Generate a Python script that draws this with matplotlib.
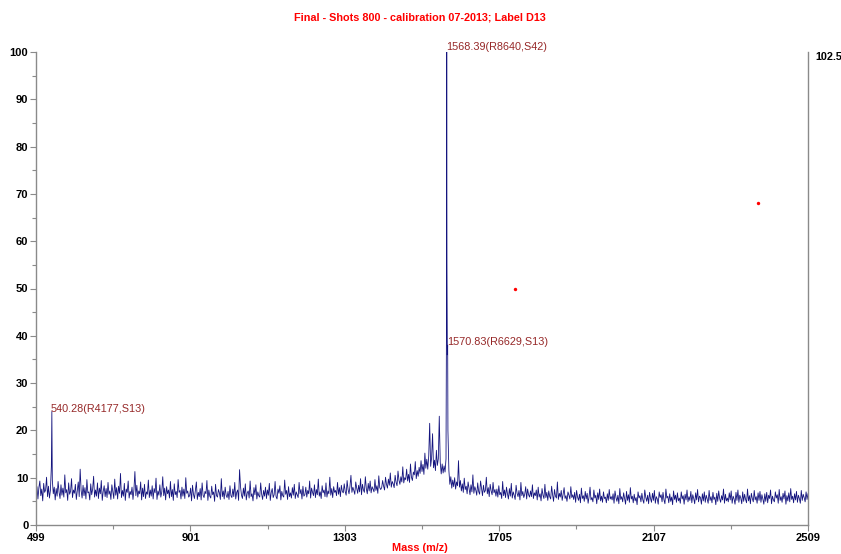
import numpy as np
import matplotlib
matplotlib.use("Agg")
import matplotlib.pyplot as plt
from matplotlib.ticker import MultipleLocator, FixedLocator

# ---------------- data ----------------
title = "Final - Shots 800 - calibration 07-2013; Label D13"
x_label = "Mass (m/z)"
x_ticks = [499, 901, 1303, 1705, 2107, 2509]
y_ticks = [0, 10, 20, 30, 40, 50, 60, 70, 80, 90, 100]
right_label = "102.5"

# spectrum sampled every 2.5 Da from 499 to 2509 (one row = 100 Da)
grid_start, grid_step = 499, 2.5
spec_499 = [6.4, 8.1, 5.5, 7.9, 9.3, 6.2, 7.6, 5.1, 8.8, 6.9, 7.4, 10.1, 6.0, 8.2, 5.7, 7.3, 12.4, 9.5, 6.6, 8.0,
            5.3, 7.7, 6.1, 9.2, 7.0, 5.6, 8.5, 6.3, 7.8, 5.9, 10.6, 6.8, 7.5, 5.2, 8.9, 6.5, 7.1, 9.8, 5.8, 7.4]
spec_599 = [6.7, 8.6, 5.4, 7.2, 9.1, 6.0, 11.8, 7.3, 5.7, 8.4, 6.2, 7.9, 5.5, 9.6, 6.8, 7.0, 5.3, 8.7, 6.4, 7.6,
            10.3, 5.9, 7.4, 6.1, 8.9, 5.6, 7.8, 6.6, 9.4, 5.2, 7.1, 8.3, 6.0, 7.7, 5.8, 9.0, 6.5, 7.2, 5.4, 8.5]
spec_699 = [7.0, 5.6, 9.7, 6.3, 7.9, 5.5, 8.2, 6.7, 10.9, 5.8, 7.3, 6.1, 8.8, 5.2, 7.6, 6.9, 9.3, 5.7, 7.1, 6.4,
            8.0, 5.4, 7.5, 11.3, 6.2, 8.4, 5.9, 7.2, 6.6, 9.1, 5.3, 7.8, 6.0, 8.6, 5.6, 7.0, 6.5, 9.5, 5.8, 7.4]
spec_799 = [6.1, 8.3, 5.5, 7.7, 6.8, 9.9, 5.4, 7.2, 6.3, 8.5, 5.9, 7.0, 10.2, 6.2, 7.8, 5.3, 8.1, 6.6, 7.4, 5.7,
            9.2, 6.0, 7.5, 5.2, 8.7, 6.4, 7.1, 5.8, 9.6, 6.9, 7.3, 5.5, 8.0, 6.1, 7.6, 5.6, 10.0, 6.7, 7.2, 5.9]
spec_899 = [6.2, 7.8, 5.1, 8.4, 6.5, 5.6, 7.3, 9.1, 5.4, 6.9, 6.0, 7.7, 5.3, 8.9, 6.3, 5.8, 7.1, 6.6, 9.4, 5.2,
            7.4, 6.1, 5.7, 8.2, 6.4, 7.0, 5.0, 8.6, 6.2, 5.9, 7.5, 6.8, 5.4, 9.8, 6.0, 7.2, 5.5, 8.0, 6.3, 5.8]
spec_999 = [7.1, 5.4, 8.3, 6.2, 5.8, 7.6, 6.0, 9.0, 5.5, 6.9, 7.4, 5.2, 11.7, 8.1, 6.3, 5.6, 7.8, 6.1, 8.7, 5.3,
            6.8, 7.2, 5.7, 9.3, 6.0, 6.6, 5.1, 7.9, 6.4, 8.5, 5.5, 7.0, 6.2, 5.9, 8.9, 6.5, 5.4, 7.3, 6.1, 8.0]
spec_1099 = [5.6, 7.4, 6.3, 8.8, 5.2, 6.9, 7.7, 5.8, 6.4, 9.2, 6.0, 5.5, 7.6, 6.7, 8.3, 5.3, 7.1, 6.2, 5.9, 9.5,
             6.5, 7.3, 5.4, 8.1, 6.0, 6.8, 5.7, 7.9, 6.3, 8.6, 5.6, 7.0, 6.4, 5.8, 9.0, 6.6, 7.5, 5.5, 8.2, 6.1]
spec_1199 = [6.4, 8.0, 5.9, 7.3, 6.6, 9.3, 5.7, 7.8, 6.9, 6.2, 8.5, 5.8, 7.5, 6.4, 9.7, 6.1, 7.0, 5.6, 8.3, 6.8,
             7.4, 6.0, 8.9, 5.9, 7.2, 6.6, 10.1, 6.3, 7.7, 5.8, 8.1, 6.9, 7.3, 6.2, 9.0, 6.5, 7.9, 6.0, 8.4, 7.1]
spec_1299 = [6.8, 8.7, 7.1, 6.3, 9.4, 7.5, 6.6, 8.2, 10.5, 6.9, 8.0, 7.3, 6.5, 9.1, 7.8, 6.7, 8.4, 7.0, 9.8, 6.4,
             8.6, 7.4, 6.9, 10.2, 7.7, 6.6, 8.8, 7.2, 9.3, 6.8, 8.1, 7.6, 7.0, 9.6, 7.3, 8.3, 6.7, 10.4, 7.9, 7.5]
spec_1399 = [7.9, 9.4, 8.2, 7.4, 10.1, 8.6, 7.8, 9.7, 8.4, 11.0, 8.0, 9.2, 8.7, 7.9, 10.5, 9.0, 8.3, 11.4, 9.5, 8.6,
             10.2, 9.1, 12.3, 8.9, 10.0, 9.6, 11.8, 9.3, 10.7, 9.0, 12.9, 10.1, 9.4, 11.2, 10.6, 13.4, 9.8, 11.5, 10.3, 12.2]
spec_1499 = [10.9, 13.6, 11.3, 12.8, 10.7, 15.2, 12.0, 13.9, 11.8, 14.6, 21.5, 12.4, 14.2, 19.3, 12.1, 13.7, 11.5, 15.8, 12.6, 14.0,
             23.0, 13.2, 10.8, 12.9, 11.0, 12.5, 11.2, 14.0, 55.0, 20.0, 11.5, 8.6, 10.2, 7.8, 9.5, 8.1, 10.0, 7.6, 9.1, 8.3]
spec_1599 = [13.6, 8.0, 9.4, 7.2, 8.7, 6.9, 9.9, 7.5, 8.2, 6.6, 9.1, 7.8, 6.4, 8.5, 7.0, 10.6, 6.7, 8.1, 7.4, 6.3,
             8.9, 7.1, 6.5, 9.3, 7.7, 6.2, 8.4, 6.9, 7.3, 10.1, 6.6, 7.9, 6.0, 8.6, 7.2, 6.4, 9.0, 6.8, 7.5, 6.1]
spec_1699 = [7.6, 5.9, 8.3, 6.4, 6.9, 5.6, 9.2, 6.2, 7.4, 5.8, 8.0, 6.6, 5.5, 7.7, 6.1, 8.8, 5.7, 7.0, 6.3, 5.4,
             8.4, 6.7, 6.0, 7.3, 5.3, 9.0, 6.2, 7.1, 5.8, 6.5, 8.1, 5.5, 7.6, 6.4, 5.9, 7.2, 6.0, 8.5, 5.6, 6.8]
spec_1799 = [6.2, 7.4, 5.3, 8.0, 5.9, 6.6, 5.1, 7.7, 6.3, 5.6, 8.6, 5.8, 6.9, 5.2, 7.2, 6.0, 5.5, 8.2, 6.4, 5.0,
             7.5, 6.1, 5.7, 9.1, 5.4, 6.7, 5.9, 7.3, 5.2, 6.5, 7.9, 5.6, 6.2, 5.0, 7.0, 6.3, 5.5, 8.1, 5.8, 6.4]
spec_1899 = [5.4, 6.9, 4.8, 7.3, 5.9, 5.2, 6.5, 4.7, 7.8, 5.6, 6.2, 5.0, 7.1, 5.5, 6.7, 4.6, 6.0, 8.0, 5.3, 5.8,
             4.9, 7.4, 5.7, 6.3, 4.5, 6.8, 5.4, 7.6, 5.1, 6.1, 4.8, 7.0, 5.6, 5.9, 4.7, 6.6, 5.2, 7.5, 5.5, 6.0]
spec_1999 = [5.3, 6.6, 4.6, 7.2, 5.8, 5.0, 6.3, 4.5, 7.7, 5.4, 6.0, 4.9, 6.8, 5.6, 4.4, 7.1, 5.2, 6.4, 4.8, 7.9,
             5.5, 6.1, 4.7, 6.5, 5.1, 5.8, 4.3, 7.0, 5.7, 6.2, 4.9, 6.7, 5.3, 4.6, 7.4, 5.9, 5.0, 6.3, 4.5, 6.9]
spec_2099 = [5.6, 4.8, 6.7, 5.2, 7.3, 4.6, 6.0, 5.5, 4.4, 7.0, 5.8, 6.4, 4.9, 6.9, 5.3, 4.5, 7.6, 5.7, 6.1, 4.7,
             6.6, 5.0, 5.9, 4.3, 7.2, 5.4, 6.3, 4.8, 6.8, 5.1, 5.7, 4.6, 7.0, 5.5, 6.2, 4.4, 6.5, 5.3, 7.4, 4.9]
spec_2199 = [6.0, 5.2, 7.1, 4.7, 6.4, 5.6, 4.5, 6.8, 5.3, 7.5, 4.9, 6.1, 5.8, 4.4, 6.6, 5.1, 7.0, 4.8, 6.3, 5.5,
             4.6, 7.3, 5.2, 6.0, 4.7, 6.9, 5.4, 5.9, 4.3, 6.7, 5.0, 7.2, 5.6, 4.8, 6.2, 5.3, 7.6, 4.6, 6.5, 5.1]
spec_2299 = [5.7, 4.9, 6.8, 5.3, 7.2, 4.6, 6.1, 5.5, 4.4, 6.9, 5.2, 7.4, 4.8, 6.3, 5.7, 4.5, 7.0, 5.0, 6.5, 5.4,
             4.7, 7.6, 5.1, 6.2, 4.5, 6.7, 5.6, 4.9, 7.3, 5.3, 6.0, 4.6, 6.8, 5.2, 7.1, 4.8, 6.4, 5.5, 4.4, 6.6]
spec_2399 = [5.0, 6.9, 4.7, 6.3, 5.6, 7.4, 4.5, 6.1, 5.3, 4.9, 7.0, 5.7, 6.4, 4.6, 7.5, 5.2, 6.0, 4.8, 6.7, 5.5,
             7.2, 4.4, 6.2, 5.1, 6.8, 4.9, 7.7, 5.4, 6.1, 4.7, 6.6, 5.3, 7.1, 4.8, 6.3, 5.6, 4.6, 7.3, 5.2, 6.5]
spec_2499 = [5.8, 4.9, 7.0, 5.4, 6.6]

# sharp peaks (m/z, intensity)
peak_mz = [540.28, 1567.6, 1568.39, 1570.0, 1570.83]
peak_int = [24.0, 40.0, 100.0, 36.0, 38.0]

# labelled peaks
label_mz = [540.28, 1568.39, 1570.83]
label_y = [24.5, 101.0, 38.7]
label_txt = ["540.28(R4177,S13)", "1568.39(R8640,S42)", "1570.83(R6629,S13)"]

# calibration markers
dot_x = [1746, 2379]
dot_y = [50, 68]

# ---------------- build ----------------
spec = (spec_499 + spec_599 + spec_699 + spec_799 + spec_899 + spec_999 + spec_1099
        + spec_1199 + spec_1299 + spec_1399 + spec_1499 + spec_1599 + spec_1699
        + spec_1799 + spec_1899 + spec_1999 + spec_2099 + spec_2199 + spec_2299
        + spec_2399 + spec_2499)
grid_mz = grid_start + grid_step * np.arange(len(spec))
mz = np.concatenate([grid_mz, peak_mz])
inten = np.concatenate([spec, peak_int])
order = np.argsort(mz, kind="stable")
mz, inten = mz[order], inten[order]

W, H = 841, 554
fig = plt.figure(figsize=(W / 100, H / 100), dpi=100)
ax = fig.add_axes([36 / W, 1 - 525 / H, (808 - 36) / W, (525 - 52) / H])

ax.plot(mz, inten, color="#14147e", lw=0.6)
ax.scatter(dot_x, dot_y, s=6, color="red", zorder=5, linewidths=0)

ax.set_xlim(499, 2509)
ax.set_ylim(0, 100)
ax.xaxis.set_major_locator(FixedLocator(x_ticks))
ax.xaxis.set_minor_locator(FixedLocator([(a + b) / 2 for a, b in zip(x_ticks[:-1], x_ticks[1:])]))
ax.yaxis.set_major_locator(FixedLocator(y_ticks))
ax.yaxis.set_minor_locator(MultipleLocator(5))

spine_c = "#8a8a8a"
for s in ["left", "bottom", "right"]:
    ax.spines[s].set_color(spine_c)
    ax.spines[s].set_linewidth(1.0)
ax.spines["top"].set_visible(False)

ax.tick_params(axis="both", which="major", length=4, width=0.8, color=spine_c,
               labelsize=8, pad=1.5)
ax.tick_params(axis="both", which="minor", length=3, width=0.8, color=spine_c)
for lab in ax.get_xticklabels() + ax.get_yticklabels():
    lab.set_fontweight("bold")
    lab.set_fontfamily("Liberation Sans")

for x, y, t in zip(label_mz, label_y, label_txt):
    ax.text(x - 2, y, t, ha="left", va="center", fontsize=7.8, color="#962828",
            family="Liberation Sans")

fig.text(815 / W, 1 - 57 / H, right_label, ha="left", va="center", fontsize=7.8,
         fontweight="bold", family="Liberation Sans")
fig.text(420 / W, 1 - 18 / H, title, ha="center", va="center", fontsize=7.8,
         fontweight="bold", color="red", family="Liberation Sans")
fig.text(420 / W, 1 - 548 / H, x_label, ha="center", va="center", fontsize=7.8,
         fontweight="bold", color="red", family="Liberation Sans")

fig.savefig("out.png", dpi=100)
